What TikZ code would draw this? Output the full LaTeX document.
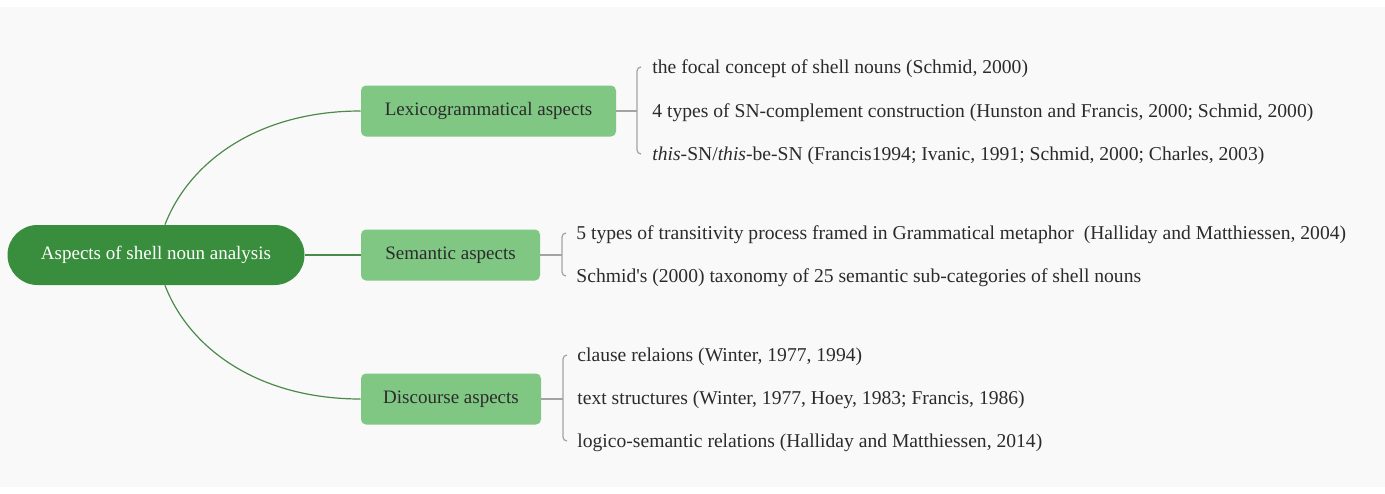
\documentclass[tikz,border=0pt]{standalone}
\usepackage{fontspec}
\setmainfont{Liberation Serif}
\usetikzlibrary{positioning}
\definecolor{rootgreen}{HTML}{388E3C}
\definecolor{branchgreen}{HTML}{81C784}
\definecolor{linkgreen}{HTML}{4A8A4A}
\definecolor{bracketgray}{HTML}{A3A3A3}
\definecolor{bggray}{HTML}{F9F9F9}
\definecolor{textdark}{HTML}{2B2B2B}

\begin{document}
\begin{tikzpicture}[x=0.5pt,y=-0.5pt,
    root/.style={fill=rootgreen, rounded corners=15pt, minimum width=148.5pt, minimum height=30pt, text=white, font=\fontsize{9.5}{11}\selectfont},
    branch/.style={fill=branchgreen, rounded corners=2.5pt, minimum height=25.5pt, text=textdark, font=\fontsize{9.5}{11}\selectfont},
    leaf/.style={anchor=west, inner sep=0pt, text=textdark, font=\fontsize{9.8}{11}\selectfont},
    link/.style={draw=linkgreen, line width=0.6pt},
    bracket/.style={draw=bracketgray, line width=0.6pt}]
    \useasboundingbox (0,0) rectangle (1385,493);
    \fill[white] (0,0) rectangle (1385,493);
    \fill[bggray] (0,7) rectangle (1385,487);

    \node[root] (root) at (156,255) {Aspects of shell noun analysis};
    \node[branch, minimum width=127.5pt] (lex) at (488.5,111) {Lexicogrammatical aspects};
    \node[branch, minimum width=89.5pt] (sem) at (450.5,255) {Semantic aspects};
    \node[branch, minimum width=90pt] (disc) at (451,399) {Discourse aspects};

    \node[leaf] (lex1) at (652,69) {the focal concept of shell nouns (Schmid, 2000)};
    \node[leaf] (lex2) at (652,113) {4 types of SN-complement construction (Hunston and Francis, 2000; Schmid, 2000)};
    \node[leaf] (lex3) at (652,156) {\textit{this}-SN/\textit{this}-be-SN (Francis1994; Ivanic, 1991; Schmid, 2000; Charles, 2003)};
    \node[leaf] (sem1) at (576,235) {5 types of transitivity process framed in Grammatical metaphor\ \ (Halliday and Matthiessen, 2004)};
    \node[leaf] (sem2) at (576,278) {Schmid\textquotesingle s (2000) taxonomy of 25 semantic sub-categories of shell nouns};
    \node[leaf] (disc1) at (577,357) {clause relaions (Winter, 1977, 1994)};
    \node[leaf] (disc2) at (577,400) {text structures (Winter, 1977, Hoey, 1983; Francis, 1986)};
    \node[leaf] (disc3) at (577,443) {logico-semantic relations (Halliday and Matthiessen, 2014)};

    \coordinate (lexb) at (637,111);
    \coordinate (semb) at (562,255);
    \coordinate (discb) at (563,399);

    % root to branches
    \draw[link] ([xshift=4.5pt]root.north) .. controls (190,160) and (260,111) .. (lex.west);
    \draw[link] (root.east) -- (sem.west);
    \draw[link] ([xshift=4.5pt]root.south) .. controls (190,350) and (260,399) .. (disc.west);

    % brackets
    \draw[bracket] (lex.east) -- (lexb);
    \draw[bracket, rounded corners=2pt] ([xshift=-5.5pt,yshift=1pt]lex1.west) -- ++(-4,0) |- ([xshift=-5.5pt,yshift=1pt]lex3.west);
    \draw[bracket] (sem.east) -- (semb);
    \draw[bracket, rounded corners=2pt] ([xshift=-5pt,yshift=1pt]sem1.west) -- ++(-4,0) |- ([xshift=-5pt,yshift=1pt]sem2.west);
    \draw[bracket] (disc.east) -- (discb);
    \draw[bracket, rounded corners=2pt] ([xshift=-5pt,yshift=1pt]disc1.west) -- ++(-4,0) |- ([xshift=-5pt,yshift=1pt]disc3.west);
\end{tikzpicture}
\end{document}
